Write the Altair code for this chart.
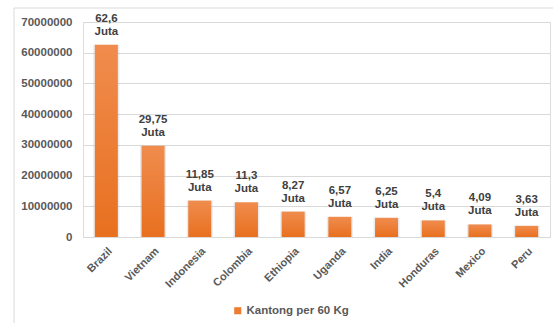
import altair as alt
import pandas as pd

# Coffee production by country (60 kg bags)
countries = ["Brazil", "Vietnam", "Indonesia", "Colombia", "Ethiopia",
             "Uganda", "India", "Honduras", "Mexico", "Peru"]
juta_values = [62.6, 29.75, 11.85, 11.3, 8.27, 6.57, 6.25, 5.4, 4.09, 3.63]
series_name = "Kantong per 60 Kg"
y_ticks = [0, 10000000, 20000000, 30000000, 40000000, 50000000, 60000000, 70000000]

df = pd.DataFrame({
    "country": countries,
    "bags": [round(v * 1_000_000) for v in juta_values],
    "label": [f"{v:g}".replace(".", ",") + "\nJuta" for v in juta_values],
    "series": series_name,
})

W, H = 467, 215
TEXT = "#595959"
FONT = "Liberation Sans"

x_enc = alt.X(
    "country:N", sort=countries, title=None,
    scale=alt.Scale(paddingInner=0.5, paddingOuter=0.25),
    axis=alt.Axis(labelAngle=-45, labelAlign="right", labelBaseline="top",
                  labelPadding=8, ticks=False, domainColor="#D9D9D9",
                  labelFontSize=11, labelFontWeight="bold", labelColor=TEXT,
                  labelFont=FONT),
)
y_enc = alt.Y(
    "bags:Q", title=None,
    scale=alt.Scale(domain=[0, 70000000], nice=False),
    axis=alt.Axis(values=y_ticks, format="d", domain=False, ticks=False,
                  labelPadding=11, gridColor="#D9D9D9", labelFontSize=11.5,
                  labelFontWeight="bold", labelColor=TEXT, labelFont=FONT),
)

base = alt.Chart(df)

# outer chart frame
frame = base.mark_rect(fill=None, stroke="#D9D9D9", strokeWidth=1, clip=False).encode(
    x=alt.value(-69), x2=alt.value(W + 20), y=alt.value(-14), y2=alt.value(H + 120)
).transform_filter(alt.datum.country == "Brazil")

shadow = base.mark_bar(color="#8a8a8a", opacity=0.18, width=26).encode(
    x=x_enc, y=y_enc
)

bars = base.mark_bar(
    width=23,
    color=alt.Gradient(
        gradient="linear", x1=0, y1=0, x2=0, y2=1,
        stops=[alt.GradientStop(color="#F08C4E", offset=0),
               alt.GradientStop(color="#E8701F", offset=1)],
    ),
).encode(x=x_enc, y=y_enc)

# invisible layer carrying the legend entry
legend_layer = base.mark_square(opacity=0).encode(
    x=x_enc, y=y_enc,
    color=alt.Color("series:N", title=None,
                    scale=alt.Scale(range=["#ED7D31"]),
                    legend=alt.Legend(orient="none", legendX=149, legendY=283,
                                      symbolType="square",
                                      symbolSize=50, symbolOpacity=1,
                                      labelFontSize=11.5, labelFontWeight="bold",
                                      labelColor=TEXT, labelFont=FONT,
                                      labelOffset=3)),
)

labels = base.mark_text(
    baseline="bottom", dy=-21, lineBreak="\n", lineHeight=13,
    fontSize=11.5, fontWeight="bold", color="#404040", font=FONT,
).encode(x=x_enc, y=y_enc, text="label:N")

chart = alt.layer(frame, shadow, bars, legend_layer, labels).properties(
    width=W, height=H,
    autosize=alt.AutoSizeParams(type="none"),
    padding={"left": 83, "top": 22, "right": 3, "bottom": 86},
).configure_view(stroke=None).configure(background="white")

chart.save("out.html", embed_options={"renderer": "svg", "actions": False})
